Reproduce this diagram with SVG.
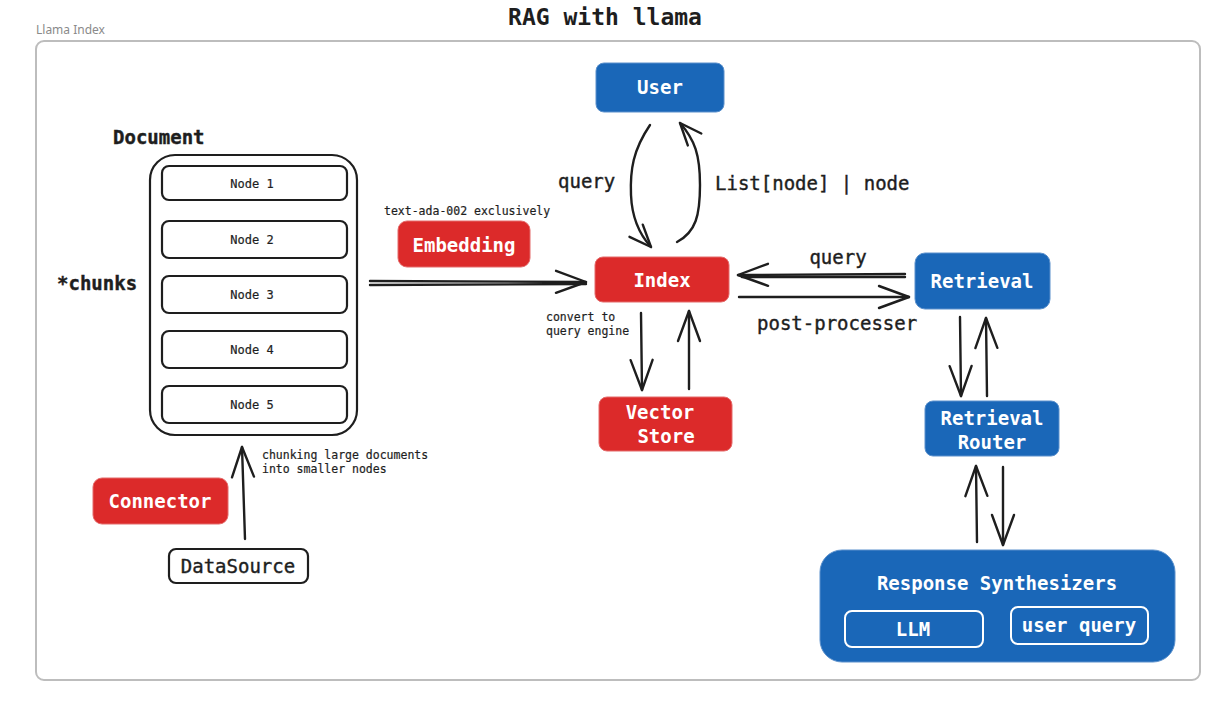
<svg xmlns="http://www.w3.org/2000/svg" width="1226" height="705" viewBox="0 0 1226 705">
<defs>
<marker id="ah" viewBox="0 0 26 22" refX="24" refY="11" markerWidth="26" markerHeight="22" markerUnits="userSpaceOnUse" orient="auto">
<path d="M2 2 L24 11 L2 20" fill="none" stroke="#1e1e1e" stroke-width="2.4" stroke-linecap="round" stroke-linejoin="round"/>
</marker>
<marker id="ahw" viewBox="0 0 34 26" refX="32" refY="13" markerWidth="34" markerHeight="26" markerUnits="userSpaceOnUse" orient="auto">
<path d="M2 2 L32 13 L2 24" fill="none" stroke="#1e1e1e" stroke-width="2.4" stroke-linecap="round" stroke-linejoin="round"/>
</marker>
</defs>
<style>
.t{font-family:"DejaVu Sans Mono","Liberation Mono",monospace;fill:#1e1e1e}
.lbl{font-size:19px;stroke:#1e1e1e;stroke-width:0.4}
.w{fill:#ffffff;font-weight:bold;font-size:19px}
.sm{font-size:11.5px;stroke:#1e1e1e;stroke-width:0.2}
.nd{font-size:12px;stroke:#1e1e1e;stroke-width:0.2}
.red{fill:#dc2a2a;stroke:#e46a6a;stroke-width:1}
.blue{fill:#1a67b8;stroke:#5a90cc;stroke-width:1}
.blk{fill:#ffffff;stroke:#1e1e1e;stroke-width:2.2}
.c{fill:none;stroke:#1e1e1e;stroke-width:2.4;stroke-linecap:round}
</style>
<rect width="1226" height="705" fill="#ffffff"/>
<text x="605" y="25" text-anchor="middle" class="t" font-size="23" font-weight="bold">RAG with llama</text>
<g id="frame">
<text x="36" y="34" font-family="Noto Sans, Liberation Sans, sans-serif" font-size="12" fill="#8a8a8a">Llama Index</text>
<rect x="36" y="41" width="1164" height="639" rx="8" fill="none" stroke="#bdbdbd" stroke-width="2"/>
</g>
<g id="connectors">
<path class="c" d="M650 125 C633 150 630 170 631 195 C632 220 640 235 651 247" marker-end="url(#ah)"/>
<path class="c" d="M677 242 C696 232 700 215 700 185 C700 155 695 140 680 123" marker-end="url(#ah)"/>
<path class="c" d="M370 281 L586 282" marker-end="url(#ahw)"/>
<path class="c" d="M370 285 L586 284" stroke-width="1.6"/>
<path class="c" d="M905 274 L738 275" marker-end="url(#ahw)"/>
<path class="c" d="M905 277 L742 277" stroke-width="1.6"/>
<path class="c" d="M739 297 L909 297" marker-end="url(#ahw)"/>
<path class="c" d="M641 313 L642 390" marker-end="url(#ahw)"/>
<path class="c" d="M689 389 L689 311" marker-end="url(#ahw)"/>
<path class="c" d="M960 317 L961 396" marker-end="url(#ahw)"/>
<path class="c" d="M987 396 L986 318" marker-end="url(#ahw)"/>
<path class="c" d="M977 542 L976 466" marker-end="url(#ahw)"/>
<path class="c" d="M1003 467 L1003 545" marker-end="url(#ahw)"/>
<path class="c" d="M245 539 L242 447" marker-end="url(#ahw)"/>
<text x="558" y="188" class="t lbl">query</text>
<text x="715" y="190" class="t lbl">List[node] | node</text>
<text x="838" y="264" text-anchor="middle" class="t lbl">query</text>
<text x="757" y="330" class="t lbl">post-processer</text>
<text x="546" y="321" class="t sm">convert to</text>
<text x="546" y="335" class="t sm">query engine</text>
<text x="384" y="215" class="t sm">text-ada-002 exclusively</text>
<text x="262" y="459" class="t sm">chunking large documents</text>
<text x="262" y="473" class="t sm">into smaller nodes</text>
</g>
<g id="user">
<rect x="596" y="63" width="128" height="49" rx="8" class="blue"/>
<text x="660" y="94" text-anchor="middle" class="t w">User</text>
</g>
<g id="index">
<rect x="595" y="257" width="134" height="45" rx="8" class="red"/>
<text x="662" y="287" text-anchor="middle" class="t w">Index</text>
</g>
<g id="vector-store">
<rect x="599" y="397" width="133" height="54" rx="8" class="red"/>
<text x="660" y="419" text-anchor="middle" class="t w">Vector</text>
<text x="666" y="443" text-anchor="middle" class="t w">Store</text>
</g>
<g id="retrieval">
<rect x="915" y="253" width="135" height="56" rx="10" class="blue"/>
<text x="982" y="288" text-anchor="middle" class="t w">Retrieval</text>
</g>
<g id="retrieval-router">
<rect x="925" y="401" width="134" height="55" rx="8" class="blue"/>
<text x="992" y="425" text-anchor="middle" class="t w">Retrieval</text>
<text x="992" y="449" text-anchor="middle" class="t w">Router</text>
</g>
<g id="response-synthesizers">
<rect x="820" y="550" width="355" height="112" rx="22" class="blue"/>
<text x="997" y="590" text-anchor="middle" class="t w">Response Synthesizers</text>
<rect x="845" y="611" width="138" height="36" rx="7" fill="none" stroke="#ffffff" stroke-width="2"/>
<text x="913" y="636" text-anchor="middle" class="t w">LLM</text>
<rect x="1011" y="607" width="137" height="37" rx="7" fill="none" stroke="#ffffff" stroke-width="2"/>
<text x="1079" y="632" text-anchor="middle" class="t w">user query</text>
</g>
<g id="embedding">
<rect x="398" y="221" width="132" height="46" rx="9" class="red"/>
<text x="464" y="252" text-anchor="middle" class="t w">Embedding</text>
</g>
<g id="connector">
<rect x="93" y="478" width="135" height="46" rx="9" class="red"/>
<text x="160" y="508" text-anchor="middle" class="t w">Connector</text>
</g>
<g id="datasource">
<rect x="169" y="549" width="139" height="34" rx="7" class="blk"/>
<text x="238" y="573" text-anchor="middle" class="t lbl">DataSource</text>
</g>
<g id="document">
<text x="113" y="144" class="t lbl" font-weight="bold">Document</text>
<text x="57" y="290" class="t lbl" font-weight="bold">*chunks</text>
<rect x="150" y="155" width="207" height="280" rx="25" fill="none" stroke="#1e1e1e" stroke-width="2.2"/>
<g id="node1"><rect x="162" y="166" width="185" height="34" rx="7" class="blk"/><text x="252" y="188" text-anchor="middle" class="t nd">Node 1</text></g>
<g id="node2"><rect x="162" y="221" width="185" height="37" rx="7" class="blk"/><text x="252" y="244" text-anchor="middle" class="t nd">Node 2</text></g>
<g id="node3"><rect x="162" y="276" width="185" height="37" rx="7" class="blk"/><text x="252" y="299" text-anchor="middle" class="t nd">Node 3</text></g>
<g id="node4"><rect x="162" y="331" width="185" height="37" rx="7" class="blk"/><text x="252" y="354" text-anchor="middle" class="t nd">Node 4</text></g>
<g id="node5"><rect x="162" y="386" width="185" height="37" rx="7" class="blk"/><text x="252" y="409" text-anchor="middle" class="t nd">Node 5</text></g>
</g>
</svg>
